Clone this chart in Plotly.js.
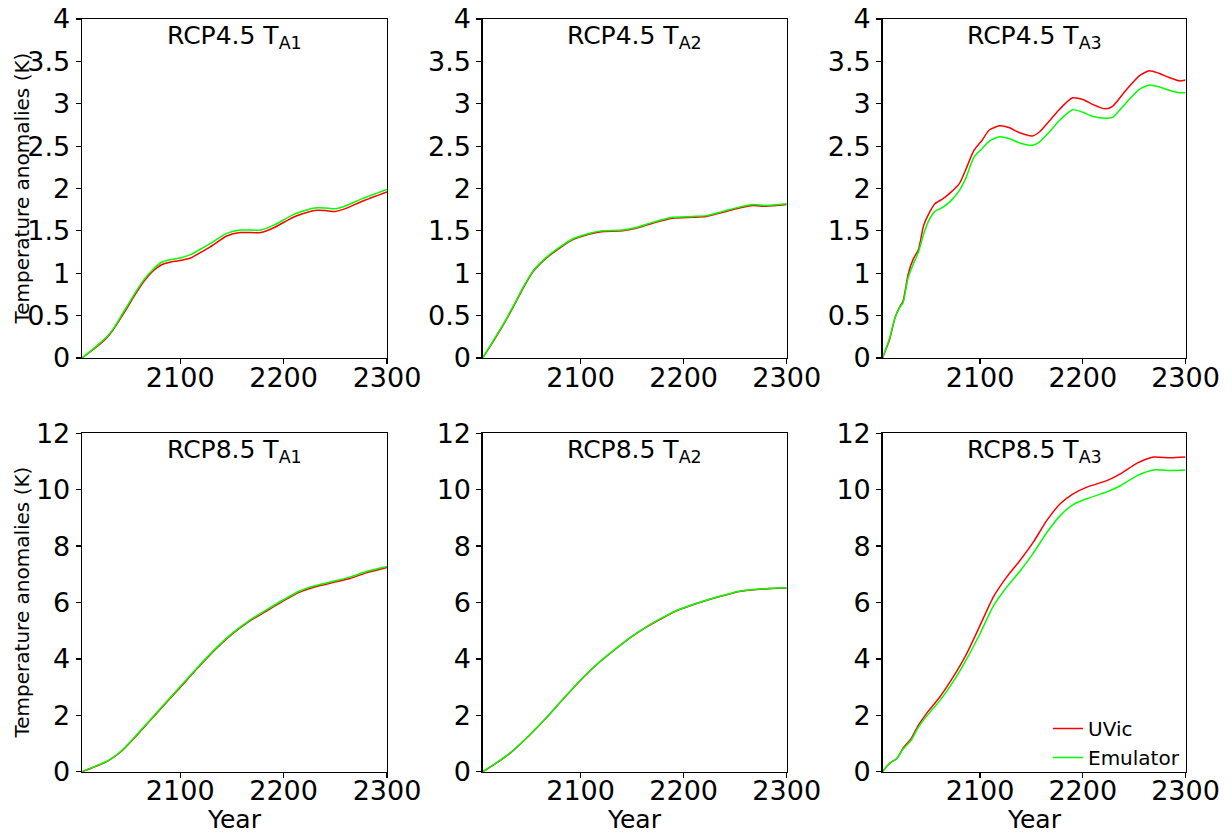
<!DOCTYPE html>
<html>
<head>
<meta charset="utf-8">
<script src="https://cdn.plot.ly/plotly-3.0.1.min.js"></script>
<style>html,body{margin:0;padding:0;background:#fff;}#chart{width:1232px;height:835px;}</style>
</head>
<body>
<div id="chart"></div>
<script>
// ---------- Data ----------
// RCP4.5 T_A1
const years45A1 = [2005,2019,2029,2035,2045,2055,2064,2074,2082,2090,2100,2110,2119,2129,2145,2158,2178,2191,2211,2230,2240,2250,2259,2276,2300];
const uvic45A1  = [0,0.13,0.24,0.33,0.52,0.72,0.89,1.03,1.10,1.13,1.15,1.18,1.24,1.31,1.44,1.48,1.48,1.54,1.67,1.74,1.74,1.73,1.76,1.85,1.96];
const emu45A1   = [0,0.14,0.25,0.34,0.54,0.74,0.91,1.05,1.13,1.16,1.18,1.22,1.28,1.35,1.47,1.51,1.51,1.57,1.70,1.77,1.77,1.76,1.79,1.88,1.99];
// RCP4.5 T_A2
const years45A2 = [2005,2015,2025,2035,2045,2054,2067,2080,2093,2108,2120,2141,2154,2170,2189,2209,2222,2238,2254,2267,2280,2300];
const uvic45A2  = [0,0.19,0.39,0.61,0.84,1.02,1.18,1.30,1.40,1.46,1.49,1.50,1.53,1.59,1.65,1.66,1.67,1.72,1.77,1.80,1.79,1.81];
const emu45A2   = [0,0.20,0.40,0.62,0.85,1.03,1.19,1.31,1.41,1.47,1.50,1.51,1.54,1.60,1.66,1.67,1.68,1.73,1.78,1.81,1.80,1.82];
// RCP4.5 T_A3
const years45A3 = [2005,2012,2017,2022,2025,2030,2035,2040,2045,2050,2056,2064,2072,2080,2086,2094,2102,2109,2119,2128,2138,2151,2158,2167,2177,2190,2200,2210,2222,2229,2242,2255,2265,2274,2284,2294,2300];
const uvic45A3  = [0,0.22,0.47,0.61,0.67,0.99,1.17,1.28,1.56,1.70,1.82,1.88,1.96,2.06,2.22,2.45,2.57,2.69,2.74,2.72,2.66,2.62,2.67,2.79,2.93,3.07,3.05,2.99,2.94,2.97,3.16,3.33,3.39,3.36,3.31,3.27,3.28];
const emu45A3   = [0,0.24,0.47,0.60,0.65,0.95,1.11,1.25,1.46,1.62,1.73,1.78,1.86,1.98,2.12,2.37,2.47,2.56,2.61,2.59,2.54,2.51,2.55,2.66,2.80,2.93,2.90,2.85,2.83,2.84,3.01,3.17,3.22,3.20,3.16,3.13,3.13];
// RCP8.5 T_A1
const years85A1 = [2005,2021,2031,2044,2054,2070,2086,2100,2118,2135,2151,2167,2183,2199,2215,2231,2248,2264,2280,2300];
const uvic85A1  = [0,0.23,0.40,0.75,1.13,1.78,2.43,2.99,3.72,4.37,4.90,5.34,5.69,6.04,6.36,6.56,6.71,6.85,7.05,7.24];
const emu85A1   = [0,0.24,0.41,0.77,1.15,1.80,2.45,3.02,3.75,4.40,4.93,5.37,5.73,6.08,6.40,6.60,6.75,6.90,7.10,7.28];
// RCP8.5 T_A2
const years85A2 = [2005,2016,2032,2049,2065,2084,2100,2116,2132,2149,2163,2180,2196,2215,2235,2254,2271,2300];
const uvic85A2  = [0,0.25,0.67,1.24,1.84,2.61,3.24,3.81,4.29,4.77,5.11,5.46,5.75,5.99,6.21,6.39,6.46,6.51];
const emu85A2   = [0,0.26,0.68,1.25,1.85,2.62,3.25,3.82,4.30,4.78,5.12,5.47,5.76,6.00,6.22,6.40,6.47,6.52];
// RCP8.5 T_A3
const years85A3 = [2005,2012,2019,2025,2033,2040,2048,2061,2074,2087,2100,2113,2126,2139,2152,2165,2178,2191,2204,2224,2237,2253,2269,2285,2300];
const uvic85A3  = [0,0.30,0.47,0.83,1.18,1.65,2.07,2.66,3.37,4.19,5.19,6.20,6.91,7.50,8.15,8.91,9.50,9.86,10.09,10.33,10.57,10.94,11.16,11.13,11.16];
const emu85A3   = [0,0.30,0.47,0.80,1.12,1.58,1.97,2.53,3.20,4.00,4.90,5.88,6.55,7.12,7.76,8.48,9.08,9.48,9.68,9.93,10.15,10.50,10.70,10.68,10.70];

const panelTitles = ['RCP4.5 T<sub>A1</sub>','RCP4.5 T<sub>A2</sub>','RCP4.5 T<sub>A3</sub>',
                     'RCP8.5 T<sub>A1</sub>','RCP8.5 T<sub>A2</sub>','RCP8.5 T<sub>A3</sub>'];
const seriesNames = ['UVic','Emulator'];
const xTickVals = [2100,2200,2300];

// ---------- Build ----------
const panels = [
  [years45A1, uvic45A1, emu45A1],
  [years45A2, uvic45A2, emu45A2],
  [years45A3, uvic45A3, emu45A3],
  [years85A1, uvic85A1, emu85A1],
  [years85A2, uvic85A2, emu85A2],
  [years85A3, uvic85A3, emu85A3]
];
const FONT = 'DejaVu Sans';
const W = 1232, H = 835;
const xDom = [[82/W, 387/W],[482.7/W, 786.7/W],[882.5/W, 1185.5/W]];
const yDom = [[1-358/H, 1-19/H],[1-771.7/H, 1-433.3/H]];

const traces = [];
const layout = {
  width: W, height: H,
  margin: {l:0, r:0, t:0, b:0},
  paper_bgcolor: '#fff', plot_bgcolor: '#fff',
  font: {family: FONT, color: '#000'},
  showlegend: true,
  legend: {x: 1185/W, xanchor: 'right', y: 1-777/H, yanchor: 'bottom',
           bgcolor: 'rgba(0,0,0,0)', font: {size: 20, family: FONT}, itemwidth: 30,
           tracegroupgap: 0},
  annotations: []
};

panels.forEach((p, i) => {
  const n = i + 1;
  const xa = n === 1 ? 'x' : 'x' + n;
  const ya = n === 1 ? 'y' : 'y' + n;
  const row = i < 3 ? 0 : 1, col = i % 3;
  const colors = ['#ff0000', '#00ff00'];
  [p[1], p[2]].forEach((vals, k) => {
    traces.push({
      x: p[0], y: vals, xaxis: xa, yaxis: ya, type: 'scatter', mode: 'lines',
      name: seriesNames[k], showlegend: n === 6,
      line: {color: colors[k], width: 1.5, shape: 'spline', smoothing: 0.6}
    });
  });
  const axCommon = {
    showgrid: false, zeroline: false, showline: true, linecolor: '#000', linewidth: 1.3,
    mirror: true, ticks: 'outside', ticklen: 5, tickwidth: 1.2, tickcolor: '#000',
    tickfont: {size: 27, family: FONT, color: '#000'}, fixedrange: true
  };
  layout[n === 1 ? 'xaxis' : 'xaxis' + n] = Object.assign({}, axCommon, {
    domain: xDom[col], anchor: ya, range: [2005, 2300],
    tickmode: 'array', tickvals: xTickVals, ticktext: xTickVals.map(String),
    ticklabelstandoff: -10
  });
  layout[n === 1 ? 'yaxis' : 'yaxis' + n] = Object.assign({}, axCommon, {
    domain: yDom[row], anchor: xa,
    range: row === 0 ? [0, 4] : [0, 12],
    tickmode: 'linear', tick0: 0, dtick: row === 0 ? 0.5 : 2
  });
  layout.annotations.push({
    text: panelTitles[i], xref: xa + ' domain', yref: ya + ' domain',
    x: 0.5, y: 1.0, xanchor: 'center', yanchor: 'top', showarrow: false,
    font: {size: 25, family: FONT, color: '#000'}
  });
  if (col === 0) {
    layout.annotations.push({
      text: 'Temperature anomalies (K)', xref: 'paper', yref: ya + ' domain',
      x: 21/W, y: 0.5, xanchor: 'center', yanchor: 'middle', textangle: -90,
      showarrow: false, font: {size: 20, family: FONT, color: '#000'}
    });
  }
  if (row === 1) {
    layout.annotations.push({
      text: 'Year', xref: xa + ' domain', yref: 'paper',
      x: 0.5, y: 1-819/H, xanchor: 'center', yanchor: 'middle',
      showarrow: false, font: {size: 25, family: FONT, color: '#000'}
    });
  }
});

Plotly.newPlot('chart', traces, layout, {displayModeBar: false, staticPlot: true});
</script>
</body>
</html>
